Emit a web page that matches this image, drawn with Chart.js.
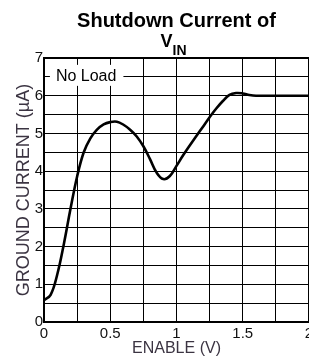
<!DOCTYPE html>
<html>
<head>
<meta charset="utf-8">
<script src="https://cdn.jsdelivr.net/npm/chart.js@4.4.1/dist/chart.umd.min.js"></script>
<style>
  html, body { margin: 0; padding: 0; overflow: hidden; background: #fff; }
  canvas { display: block; }
</style>
</head>
<body>
<canvas id="shutdownChart" width="320" height="358"></canvas>
<script>
/*values*/
const enableVolts = [0, 0.05, 0.1, 0.15, 0.2, 0.25, 0.3, 0.35, 0.4, 0.45, 0.5, 0.55, 0.6, 0.65, 0.7, 0.75, 0.8, 0.85, 0.9, 0.95, 1.0, 1.05, 1.1, 1.15, 1.2, 1.25, 1.3, 1.35, 1.4, 1.45, 1.5, 1.55, 1.6, 1.7, 1.8, 1.9, 2.0];
const groundCurrent = [0.58, 0.72, 1.26, 2.07, 3.0, 3.86, 4.5, 4.87, 5.1, 5.24, 5.3, 5.31, 5.23, 5.1, 4.92, 4.66, 4.32, 3.96, 3.79, 3.87, 4.14, 4.42, 4.68, 4.93, 5.18, 5.43, 5.66, 5.86, 6.02, 6.07, 6.06, 6.02, 6.0, 6.0, 6.0, 6.0, 6.0];
const xTickLabels = [0, 0.5, 1, 1.5, 2];
const yTickLabels = [0, 1, 2, 3, 4, 5, 6, 7];
const titleText = 'Shutdown Current of';
const titleSymbol = 'V';
const titleSubscript = 'IN';
const noteText = 'No Load';

const FONT = '"Liberation Sans", Arial, sans-serif';
Chart.defaults.font.family = FONT;

/*title with subscript, drawn by hand*/
const titlePlugin = {
  id: 'subTitle',
  afterDraw(chart) {
    const ctx = chart.ctx;
    const area = chart.chartArea;
    const mid = (area.left + area.right) / 2;
    ctx.save();
    ctx.fillStyle = '#000';
    ctx.textBaseline = 'alphabetic';
    ctx.textAlign = 'center';
    ctx.font = 'bold 20px ' + FONT;
    ctx.fillText(titleText, mid, 27);
    ctx.font = 'bold 18px ' + FONT;
    const vw = ctx.measureText(titleSymbol).width;
    ctx.font = 'bold 14px ' + FONT;
    const iw = ctx.measureText(titleSubscript).width;
    const start = mid - 3 - (vw + iw) / 2;
    ctx.textAlign = 'left';
    ctx.font = 'bold 18px ' + FONT;
    ctx.fillText(titleSymbol, start, 47);
    ctx.font = 'bold 14px ' + FONT;
    ctx.fillText(titleSubscript, start + vw, 55);
    ctx.restore();
  }
};

/*"No Load" note sitting on a white box*/
const notePlugin = {
  id: 'noteLabel',
  afterDatasetsDraw(chart) {
    const {ctx, scales: {x, y}} = chart;
    ctx.save();
    ctx.font = '16px ' + FONT;
    const tx = x.getPixelForValue(0.09);
    const ty = y.getPixelForValue(6.5);
    const w = ctx.measureText(noteText).width;
    ctx.fillStyle = '#fff';
    ctx.fillRect(tx - 6, ty - 12, w + 13, 21);
    ctx.fillStyle = '#000';
    ctx.textBaseline = 'alphabetic';
    ctx.textAlign = 'left';
    ctx.fillText(noteText, tx, ty + 4);
    ctx.restore();
  }
};

const data = {
  datasets: [{
    label: 'Ground current',
    data: enableVolts.map((v, i) => ({x: v, y: groundCurrent[i]})),
    borderColor: '#000',
    borderWidth: 2.6,
    pointRadius: 0,
    tension: 0.4,
    fill: false
  }]
};

const config = {
  type: 'line',
  data: data,
  options: {
    responsive: false,
    animation: false,
    layout: { padding: { top: 58, right: 11, bottom: 0, left: 0 } },
    plugins: { legend: { display: false }, tooltip: { enabled: false }, title: { display: false } },
    scales: {
      x: {
        type: 'linear',
        min: 0,
        max: 2,
        afterFit: s => { s.height = 36; },
        ticks: {
          stepSize: 0.25,
          autoSkip: false,
          maxRotation: 0,
          padding: 3,
          color: '#111',
          font: { size: 15 },
          callback: v => xTickLabels.includes(v) ? String(v) : ''
        },
        grid: {
          color: '#000',
          lineWidth: c => (c.tick && c.tick.value === 2) ? 2 : 1,
          drawTicks: false
        },
        border: { color: '#000', width: 2 },
        title: {
          display: true,
          text: 'ENABLE (V)',
          color: '#3b3442',
          font: { size: 16 },
          padding: { top: 0, bottom: 0 }
        }
      },
      y: {
        type: 'linear',
        min: 0,
        max: 7,
        afterFit: s => { s.width = 44; },
        ticks: {
          stepSize: 0.5,
          autoSkip: false,
          padding: 1,
          color: '#111',
          font: { size: 15 },
          callback: v => yTickLabels.includes(v) ? String(v) : ''
        },
        grid: {
          color: '#000',
          lineWidth: c => (c.tick && c.tick.value === 7) ? 2 : 1,
          drawTicks: false
        },
        border: { color: '#000', width: 2 },
        title: {
          display: true,
          text: 'GROUND CURRENT (µA)',
          color: '#3b3442',
          font: { size: 18 },
          padding: { top: 13, bottom: 0 }
        }
      }
    }
  },
  plugins: [notePlugin, titlePlugin]
};

/*create chart*/
var shutdownChart = new Chart(document.getElementById('shutdownChart'), config);
</script>
</body>
</html>
